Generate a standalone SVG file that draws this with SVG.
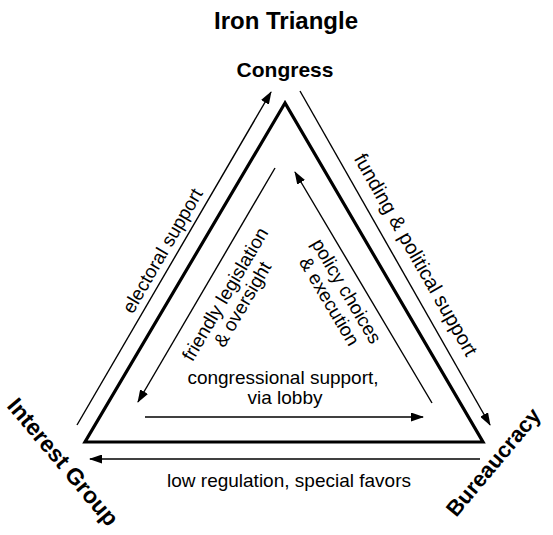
<svg xmlns="http://www.w3.org/2000/svg" width="553" height="535" viewBox="0 0 553 535">
  <style>
    text { font-family: "Liberation Sans", Arial, sans-serif; fill: #000; }
    .title { font-size: 24px; font-weight: bold; }
    .node { font-size: 23px; font-weight: bold; }
    .lbl { font-size: 19px; }
    .tri { fill: none; stroke: #000; stroke-width: 3.2; stroke-linejoin: miter; }
    .arr { fill: none; stroke: #000; stroke-width: 1.4; marker-end: url(#ah); }
  </style>
  <defs>
    <marker id="ah" markerUnits="userSpaceOnUse" markerWidth="13" markerHeight="9" refX="12" refY="4.5" orient="auto">
      <path d="M0,0 L13,4.5 L0,9 z" fill="#000"/>
    </marker>
  </defs>
  <rect width="553" height="535" fill="#fff"/>
  <text class="title" x="286" y="29" text-anchor="middle">Iron Triangle</text>

  <g id="triangle">
    <polygon class="tri" points="285,103 85,442 483,442"/>
  </g>

  <g id="congress">
    <text class="node" x="285" y="77" text-anchor="middle" style="font-size:21px">Congress</text>
  </g>
  <g id="interest-group">
    <text class="node" transform="translate(57,467) rotate(50)" text-anchor="middle">Interest Group</text>
  </g>
  <g id="bureaucracy">
    <text class="node" transform="translate(499,467) rotate(-50)" text-anchor="middle" style="font-size:22px">Bureaucracy</text>
  </g>

  <g id="connectors">
    <line class="arr" x1="77" y1="425" x2="271" y2="92"/>
    <line class="arr" x1="300" y1="91" x2="490" y2="425"/>
    <line class="arr" x1="275" y1="168" x2="138" y2="402"/>
    <line class="arr" x1="432" y1="403" x2="295" y2="172"/>
    <line class="arr" x1="145" y1="417" x2="423" y2="417"/>
    <line class="arr" x1="480" y1="459" x2="90" y2="459"/>
  </g>

  <g id="labels">
    <text class="lbl" transform="translate(168,254) rotate(-59.8)" text-anchor="middle">electoral support</text>
    <text class="lbl" transform="translate(410,258) rotate(60.4)" text-anchor="middle" style="font-size:20px">funding &amp; political support</text>
    <text class="lbl" transform="translate(230.7,297.4) rotate(-59.6)" text-anchor="middle">friendly legislation<tspan x="0" dy="20">&amp; oversight</tspan></text>
    <text class="lbl" transform="translate(341,294.4) rotate(59.4)" text-anchor="middle">policy choices<tspan x="0" dy="20">&amp; execution</tspan></text>
    <text class="lbl" x="283" y="384" text-anchor="middle">congressional support,</text>
    <text class="lbl" x="285" y="404" text-anchor="middle">via lobby</text>
    <text class="lbl" x="289" y="487" text-anchor="middle">low regulation, special favors</text>
  </g>
</svg>
